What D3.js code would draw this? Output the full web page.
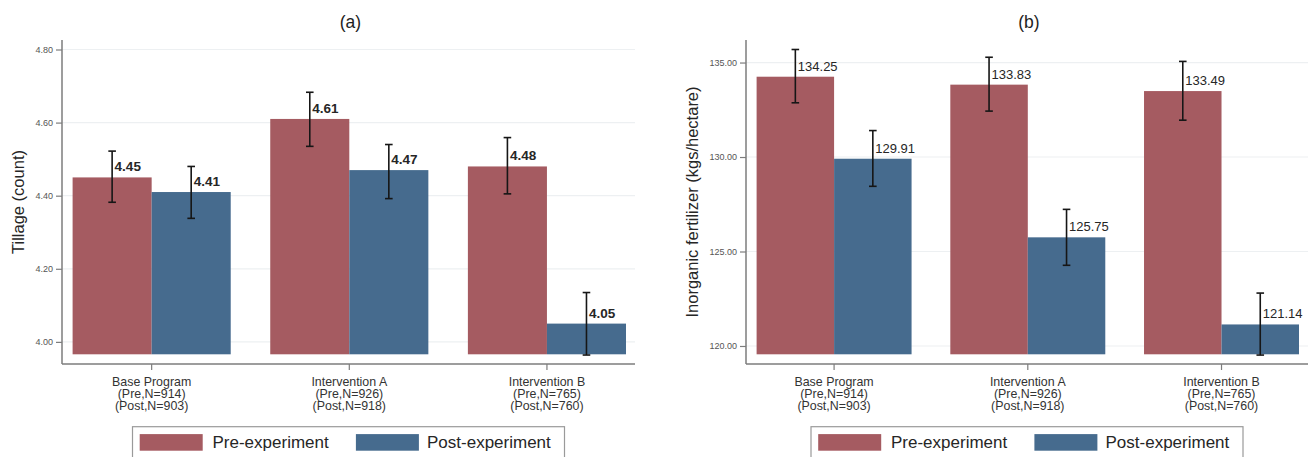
<!DOCTYPE html>
<html>
<head>
<meta charset="utf-8">
<script src="https://cdn.jsdelivr.net/npm/d3@7/dist/d3.min.js"></script>
<style>
  html, body { margin: 0; padding: 0; background: #fff; }
  svg { display: block; font-family: "Liberation Sans", Arial, Helvetica, sans-serif; }
</style>
</head>
<body>
<svg id="chart" width="1311" height="457"></svg>
<script>
// ---------------- data ----------------
const categories = ["Base Program", "Intervention A", "Intervention B"];
const categorySubLabels = [
  ["(Pre,N=914)", "(Post,N=903)"],
  ["(Pre,N=926)", "(Post,N=918)"],
  ["(Pre,N=765)", "(Post,N=760)"]
];
const seriesNames = ["Pre-experiment", "Post-experiment"];

// (a) Tillage (count)
const tillagePre      = [4.45, 4.61, 4.48];
const tillagePost     = [4.41, 4.47, 4.05];
const tillagePreLow   = [4.382, 4.535, 4.405];
const tillagePreHigh  = [4.522, 4.683, 4.559];
const tillagePostLow  = [4.338, 4.392, 3.964];
const tillagePostHigh = [4.480, 4.540, 4.135];
const tillageTicks    = [4.00, 4.20, 4.40, 4.60, 4.80];
const tillageRange    = [3.966, 4.80];

// (b) Inorganic fertilizer (kgs/hectare)
const fertPre      = [134.25, 133.83, 133.49];
const fertPost     = [129.91, 125.75, 121.14];
const fertPreLow   = [132.87, 132.43, 131.95];
const fertPreHigh  = [135.69, 135.28, 135.06];
const fertPostLow  = [128.45, 124.27, 119.52];
const fertPostHigh = [131.40, 127.23, 122.80];
const fertTicks    = [120, 125, 130, 135];
const fertRange    = [119.56, 135.69];

// ---------------- style ----------------
const colors = ["#a55b61", "#466b8e"];
const svg = d3.select("#chart");

function panel(cfg) {
  const g = svg.append("g");
  const innerTop = cfg.top + 9.5, innerBottom = cfg.bottom - 9.7;
  const innerLeft = cfg.left + 10.6, innerRight = cfg.right - 9;

  const y = d3.scaleLinear().domain(cfg.range).range([innerBottom, innerTop]);
  const x0 = d3.scaleBand().domain(categories).range([innerLeft, innerRight])
    .paddingInner(0.2).paddingOuter(0);
  const x1 = d3.scaleBand().domain([0, 1]).range([0, x0.bandwidth()]).padding(0);

  // gridlines
  g.append("g").selectAll("line").data(cfg.ticks).join("line")
    .attr("x1", cfg.left).attr("x2", cfg.right)
    .attr("y1", d => y(d)).attr("y2", d => y(d))
    .attr("stroke", "#edf0f2").attr("stroke-width", 1.2);

  // bars
  const rows = categories.map((c, i) => ({
    cat: c,
    vals: [
      { s: 0, v: cfg.pre[i], lo: cfg.preLo[i], hi: cfg.preHi[i] },
      { s: 1, v: cfg.post[i], lo: cfg.postLo[i], hi: cfg.postHi[i] }
    ]
  }));
  const grp = g.append("g").selectAll("g").data(rows).join("g")
    .attr("transform", d => `translate(${x0(d.cat)},0)`);
  grp.selectAll("rect").data(d => d.vals).join("rect")
    .attr("x", d => x1(d.s)).attr("width", x1.bandwidth())
    .attr("y", d => y(d.v)).attr("height", d => y(cfg.range[0]) - y(d.v))
    .attr("fill", d => colors[d.s]);

  // error bars
  const eb = grp.selectAll("g.eb").data(d => d.vals).join("g").attr("class", "eb");
  const cx = d => x1(d.s) + x1.bandwidth() / 2;
  eb.append("line").attr("x1", cx).attr("x2", cx)
    .attr("y1", d => y(d.lo)).attr("y2", d => y(d.hi));
  eb.append("line").attr("x1", d => cx(d) - 3.8).attr("x2", d => cx(d) + 3.8)
    .attr("y1", d => y(d.hi)).attr("y2", d => y(d.hi));
  eb.append("line").attr("x1", d => cx(d) - 3.8).attr("x2", d => cx(d) + 3.8)
    .attr("y1", d => y(d.lo)).attr("y2", d => y(d.lo));
  eb.selectAll("line").attr("stroke", "#161616").attr("stroke-width", 1.6);

  // value labels
  grp.selectAll("text.val").data(d => d.vals).join("text").attr("class", "val")
    .attr("x", d => cx(d) + 2.5).attr("y", d => y(d.v) - 6)
    .attr("font-size", cfg.labelSize).attr("font-weight", cfg.labelWeight)
    .attr("fill", "#262626")
    .text(d => d3.format(".2f")(d.v));

  // y axis
  const yAxis = d3.axisLeft(y).tickValues(cfg.ticks).tickSize(6).tickPadding(3)
    .tickFormat(d3.format(".2f"));
  const ya = g.append("g").attr("transform", `translate(${cfg.left},0)`).call(yAxis);
  ya.select(".domain").remove();
  ya.selectAll(".tick line").attr("stroke", "#7d7d7d").attr("stroke-width", 1.2);
  ya.selectAll(".tick text").attr("font-size", 9).attr("fill", "#555")
    .attr("font-family", "Liberation Sans, Arial, sans-serif");
  g.append("line").attr("x1", cfg.left).attr("x2", cfg.left)
    .attr("y1", cfg.top).attr("y2", cfg.bottom)
    .attr("stroke", "#7d7d7d").attr("stroke-width", 1.5);

  // x axis
  const xAxis = d3.axisBottom(x0).tickSize(6).tickFormat("");
  const xa = g.append("g").attr("transform", `translate(0,${cfg.bottom})`).call(xAxis);
  xa.select(".domain").remove();
  xa.selectAll(".tick line").attr("stroke", "#7d7d7d").attr("stroke-width", 1.2);
  g.append("line").attr("x1", cfg.left).attr("x2", cfg.right)
    .attr("y1", cfg.bottom).attr("y2", cfg.bottom)
    .attr("stroke", "#7d7d7d").attr("stroke-width", 1.5);

  const lab = g.append("g").selectAll("text").data(categories).join("text")
    .attr("x", d => x0(d) + x0.bandwidth() / 2)
    .attr("y", cfg.bottom + 21.5)
    .attr("text-anchor", "middle").attr("font-size", 12.4).attr("fill", "#333");
  lab.each(function (d, i) {
    const t = d3.select(this);
    const lines = [d].concat(categorySubLabels[i]);
    lines.forEach((l, k) => t.append("tspan").attr("x", x0(d) + x0.bandwidth() / 2)
      .attr("dy", k === 0 ? 0 : 12.4).text(l));
  });

  // y title
  g.append("text")
    .attr("transform", `translate(${cfg.titleX},${(cfg.top + cfg.bottom) / 2}) rotate(-90)`)
    .attr("text-anchor", "middle").attr("dominant-baseline", "central")
    .attr("font-size", 16.5).attr("fill", "#262626").text(cfg.yTitle);

  // panel title
  g.append("text").attr("x", (cfg.left + cfg.right) / 2 + 2).attr("y", 28)
    .attr("text-anchor", "middle").attr("font-size", 17.5).attr("fill", "#1e1e1e")
    .text(cfg.title);

  // legend
  const lgLeft = (cfg.left + cfg.right) / 2 - 216;
  const lg = g.append("g").attr("transform", `translate(${lgLeft},426.7)`);
  lg.append("rect").attr("x", 0).attr("y", 0).attr("width", 432).attr("height", 34)
    .attr("fill", "#fff").attr("stroke", "#9a9a9a").attr("stroke-width", 1.2);
  const items = [{ s: 0, sx: 7.2, tx: 80 }, { s: 1, sx: 223.4, tx: 294.5 }];
  items.forEach(it => {
    lg.append("rect").attr("x", it.sx).attr("y", 7.4).attr("width", 63).attr("height", 16.6)
      .attr("fill", colors[it.s]);
    lg.append("text").attr("x", it.tx).attr("y", 21.4).attr("font-size", 17)
      .attr("fill", "#262626").text(seriesNames[it.s]);
  });
}

panel({
  left: 62, right: 635, top: 40, bottom: 364,
  range: tillageRange, ticks: tillageTicks,
  pre: tillagePre, post: tillagePost,
  preLo: tillagePreLow, preHi: tillagePreHigh,
  postLo: tillagePostLow, postHi: tillagePostHigh,
  labelSize: 13.5, labelWeight: "bold",
  yTitle: "Tillage (count)", titleX: 18, title: "(a)"
});

panel({
  left: 746, right: 1308, top: 40, bottom: 364,
  range: fertRange, ticks: fertTicks,
  pre: fertPre, post: fertPost,
  preLo: fertPreLow, preHi: fertPreHigh,
  postLo: fertPostLow, postHi: fertPostHigh,
  labelSize: 13, labelWeight: "normal",
  yTitle: "Inorganic fertilizer (kgs/hectare)", titleX: 691.5, title: "(b)"
});
</script>
</body>
</html>
